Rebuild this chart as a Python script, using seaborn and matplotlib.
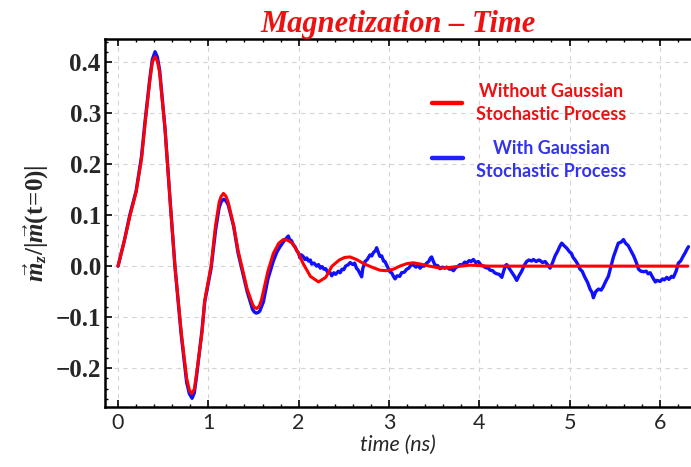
import numpy as np
import pandas as pd
import seaborn as sns
import matplotlib
matplotlib.use("Agg")
import matplotlib.pyplot as plt
from matplotlib.ticker import MultipleLocator

# --- data ---
red_t = [0, 0.07, 0.13, 0.2, 0.26, 0.3, 0.35, 0.38, 0.41, 0.435, 0.46, 0.52,
         0.58, 0.63, 0.7, 0.76, 0.79, 0.816, 0.845, 0.87, 0.93, 0.96, 1.03,
         1.08, 1.12, 1.14, 1.167, 1.195, 1.22, 1.28, 1.33, 1.37, 1.43, 1.49,
         1.51, 1.536, 1.565, 1.59, 1.66, 1.72, 1.78, 1.83, 1.875, 1.93, 1.99,
         2.05, 2.13, 2.22, 2.3, 2.37, 2.45, 2.51, 2.57, 2.64, 2.72, 2.81, 2.9,
         2.975, 3.05, 3.12, 3.2, 3.27, 3.35, 3.45, 3.57, 3.7, 3.9, 4.1, 4.5,
         5.0, 5.5, 6.0, 6.31]
red_m = [0, 0.05, 0.097, 0.145, 0.21, 0.28, 0.36, 0.4, 0.41, 0.402, 0.38, 0.27,
         0.12, 0.0, -0.13, -0.22, -0.243, -0.25, -0.241, -0.21, -0.13, -0.067,
         0.0, 0.08, 0.125, 0.136, 0.1425, 0.137, 0.125, 0.08, 0.03, 0.0,
         -0.045, -0.075, -0.081, -0.083, -0.078, -0.065, -0.01, 0.025, 0.045,
         0.052, 0.051, 0.045, 0.028, 0.005, -0.02, -0.031, -0.022, 0.0, 0.012,
         0.017, 0.018, 0.013, 0.005, -0.002, -0.008, -0.009, -0.006, 0.0,
         0.005, 0.0065, 0.004, 0.0, -0.004, -0.002, 0.002, 0.0, 0.0, 0.0, 0.0,
         0.0, 0.0]

# blue: early part follows the red curve closely
blue_t_early = [0, 0.07, 0.13, 0.2, 0.26, 0.3, 0.35, 0.38, 0.41, 0.435, 0.46,
                0.52, 0.58, 0.63, 0.7, 0.76, 0.79, 0.82, 0.845, 0.87, 0.93,
                0.96, 1.03, 1.08, 1.12, 1.145, 1.17, 1.195, 1.22, 1.28, 1.33,
                1.37, 1.43, 1.49, 1.51, 1.53, 1.55, 1.57, 1.61, 1.66, 1.72,
                1.76]
blue_m_early = [0, 0.05, 0.1, 0.147, 0.215, 0.285, 0.365, 0.405, 0.42, 0.41,
                0.385, 0.27, 0.12, 0.0, -0.135, -0.228, -0.25, -0.259, -0.248,
                -0.215, -0.125, -0.07, -0.005, 0.07, 0.115, 0.127, 0.131,
                0.128, 0.12, 0.078, 0.025, -0.005, -0.05, -0.085, -0.09,
                -0.092, -0.091, -0.088, -0.07, -0.025, 0.01, 0.028]

# blue: noisy tail
blue_t_tail = [1.794, 1.82, 1.84, 1.86, 1.886, 1.9, 1.92, 1.94, 1.96, 1.98,
               2.0, 2.015, 2.03, 2.05, 2.07, 2.09, 2.11, 2.13, 2.145, 2.17,
               2.2, 2.22, 2.24, 2.26, 2.28, 2.3, 2.32, 2.34, 2.366, 2.39,
               2.41, 2.44, 2.46, 2.48, 2.5, 2.52, 2.55, 2.57, 2.6, 2.62,
               2.64, 2.66, 2.68, 2.698, 2.71, 2.735, 2.76, 2.79, 2.81, 2.83,
               2.85, 2.864, 2.88, 2.9, 2.92, 2.94, 2.956, 2.98, 3.01, 3.03,
               3.05, 3.068, 3.09, 3.12, 3.14, 3.17, 3.197, 3.22, 3.25, 3.27,
               3.3, 3.32, 3.344, 3.37, 3.39, 3.418, 3.44, 3.46, 3.473, 3.49,
               3.51, 3.54, 3.566, 3.59, 3.62, 3.64, 3.67, 3.69, 3.714, 3.74,
               3.76, 3.787, 3.81, 3.84, 3.86, 3.89, 3.91, 3.935, 3.96, 3.99,
               4.02, 4.046, 4.07, 4.1, 4.12, 4.15, 4.17, 4.194, 4.22, 4.25,
               4.27, 4.29, 4.304, 4.33, 4.36, 4.39, 4.415, 4.44, 4.47, 4.5,
               4.525, 4.55, 4.58, 4.6, 4.63, 4.66, 4.673, 4.7, 4.73, 4.76,
               4.784, 4.81, 4.84, 4.87, 4.89, 4.913, 4.94, 4.97, 5.0, 5.02,
               5.04, 5.07, 5.09, 5.116, 5.14, 5.17, 5.2, 5.227, 5.25, 5.264,
               5.29, 5.32, 5.35, 5.374, 5.4, 5.43, 5.46, 5.486, 5.51, 5.54,
               5.57, 5.597, 5.62, 5.65, 5.68, 5.71, 5.74, 5.764, 5.79, 5.82,
               5.85, 5.87, 5.893, 5.92, 5.95, 5.97, 6.003, 6.03, 6.05, 6.077,
               6.1, 6.13, 6.15, 6.18, 6.205, 6.23, 6.26, 6.28, 6.3, 6.317]
blue_m_tail = [0.038, 0.045, 0.05, 0.054, 0.059, 0.052, 0.05, 0.042, 0.038,
               0.03, 0.025, 0.016, 0.022, 0.019, 0.013, 0.016, 0.01, 0.012,
               0.004, 0.006, 0.0, 0.003, -0.004, -0.001, -0.006, -0.005,
               -0.012, -0.01, -0.019, -0.013, -0.016, -0.01, -0.013, -0.006,
               -0.007, 0.0, 0.003, 0.007, 0.003, 0.006, -0.004, -0.008, -0.015,
               -0.021, -0.005, 0.009, 0.013, 0.022, 0.02, 0.027, 0.03, 0.036,
               0.028, 0.019, 0.02, 0.01, 0.009, 0.0, -0.011, -0.013, -0.02,
               -0.025, -0.019, -0.02, -0.013, -0.012, -0.006, -0.004, 0.004,
               0.002, -0.002, 0.003, -0.004, 0.001, 0.0, 0.006, 0.009, 0.016,
               0.018, 0.01, 0.002, 0.001, -0.005, -0.002, -0.004, -0.002,
               -0.006, -0.005, -0.009, -0.003, -0.001, 0.003, 0.002, 0.008,
               0.006, 0.011, 0.009, 0.013, 0.007, 0.009, 0.002, 0.0, -0.003,
               -0.004, -0.008, -0.009, -0.013, -0.015, -0.016, -0.022, -0.01,
               0.001, 0.003, -0.004, -0.012, -0.02, -0.028, -0.019, -0.01,
               0.002, 0.009, 0.012, 0.01, 0.013, 0.009, 0.012, 0.011, 0.007,
               0.009, 0.002, -0.004, 0.006, 0.02, 0.03, 0.038, 0.045, 0.04,
               0.035, 0.028, 0.025, 0.017, 0.01, 0.004, -0.006, -0.01, -0.022,
               -0.032, -0.045, -0.052, -0.062, -0.05, -0.045, -0.047, -0.04,
               -0.03, -0.02, 0.0, 0.018, 0.03, 0.045, 0.047, 0.052, 0.045,
               0.04, 0.03, 0.02, 0.007, -0.006, -0.01, -0.011, -0.01, -0.015,
               -0.013, -0.022, -0.031, -0.028, -0.03, -0.025, -0.027, -0.022,
               -0.026, -0.02, -0.022, -0.01, 0.006, 0.01, 0.02, 0.026, 0.033,
               0.038]

legend_labels = ["Without Gaussian\nStochastic Process",
                 "With Gaussian\nStochastic Process"]

red_df = pd.DataFrame({"time": red_t, "m": red_m})
blue_df = pd.DataFrame({"time": blue_t_early + blue_t_tail,
                        "m": blue_m_early + blue_m_tail})

sns.set_theme(style="ticks")
plt.rcParams["mathtext.fontset"] = "custom"
plt.rcParams["mathtext.it"] = "Liberation Serif:bold:italic"
plt.rcParams["mathtext.rm"] = "Liberation Serif:bold"
plt.rcParams["mathtext.bf"] = "Liberation Serif:bold"

fig = plt.figure(figsize=(6.91, 4.67), dpi=100)
ax = fig.add_axes([0.152, 0.1285, 0.848, 0.788])

sns.lineplot(data=blue_df, x="time", y="m", color="#1010ff", linewidth=2.4,
             sort=False, estimator=None, ax=ax, zorder=3)
sns.lineplot(data=red_df, x="time", y="m", color="#ff0000", linewidth=2.2,
             sort=False, estimator=None, ax=ax, zorder=4)

ax.set_xlim(-0.144, 6.345)
ax.set_ylim(-0.276, 0.445)

ax.xaxis.set_major_locator(MultipleLocator(1))
ax.xaxis.set_minor_locator(MultipleLocator(0.2))
ax.yaxis.set_major_locator(MultipleLocator(0.1))
ax.yaxis.set_minor_locator(MultipleLocator(0.02))
ax.yaxis.set_major_formatter(plt.FuncFormatter(lambda v, p: f"{v:.1f}".replace("-", "\u2212")))

ax.grid(True, which="major", color="#d4d4d4", linestyle=(0, (4, 4)), linewidth=0.8)
ax.tick_params(which="both", direction="in", top=True, right=False, color="black")
ax.tick_params(which="major", length=5, width=1.2)
ax.tick_params(which="minor", length=2.5, width=1.0)
for side in ["left", "bottom", "top"]:
    ax.spines[side].set_color("black")
    ax.spines[side].set_linewidth(1.8)
ax.spines["right"].set_visible(False)

for lab in ax.get_yticklabels():
    lab.set_fontfamily("Liberation Serif")
    lab.set_fontweight("bold")
    lab.set_fontsize(18)
for lab in ax.get_xticklabels():
    lab.set_fontfamily("Lato")
    lab.set_fontsize(15.5)
ax.tick_params(axis="y", pad=3)
ax.tick_params(axis="x", pad=4)

ax.set_xlabel("time (ns)", fontfamily="Lato", fontstyle="italic", fontsize=15.5, labelpad=2)
ax.set_ylabel(r"$\vec{m}_z/|\vec{m}(\mathrm{t\!=\!0})|$", fontsize=18, labelpad=4)
ax.set_title("Magnetization \u2013 Time", fontfamily="Liberation Serif",
             fontweight="bold", fontstyle="italic", fontsize=22, color="#ee1111", pad=4)

# legend as in the reference: short line keys beside centred two-line labels
ax.plot([0.558, 0.609], [0.826, 0.826], transform=ax.transAxes, color="#ff0000", lw=3.2)
ax.plot([0.558, 0.611], [0.677, 0.677], transform=ax.transAxes, color="#2020ff", lw=3.2)
ax.text(0.761, 0.826, legend_labels[0], transform=ax.transAxes,
        ha="center", va="center", color="#ee1111", fontfamily="Lato",
        fontweight="bold", fontsize=13, linespacing=1.45)
ax.text(0.761, 0.672, legend_labels[1], transform=ax.transAxes,
        ha="center", va="center", color="#3333ee", fontfamily="Lato",
        fontweight="bold", fontsize=13, linespacing=1.45)

fig.savefig("out.png", dpi=100, facecolor="white")
